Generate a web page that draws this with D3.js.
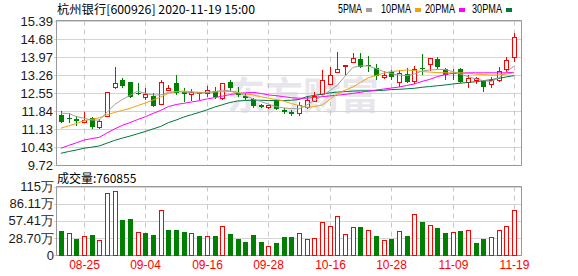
<!DOCTYPE html>
<html>
<head>
<meta charset="utf-8">
<script src="https://cdn.jsdelivr.net/npm/d3@7"></script>
<style>
  body { margin: 0; background: #fff; }
  svg { display: block; }
</style>
</head>
<body>
<div id="chart"></div>
<script>
const WIDTH = 578;
const HEIGHT = 276;

const TITLE = '杭州银行[600926] 2020-11-19 15:00';
const LAST_VOLUME = '760855';

const DATES = ['08-20','08-21','08-24','08-25','08-26','08-27','08-28','08-31','09-01','09-02',
  '09-03','09-04','09-07','09-08','09-09','09-10','09-11','09-14','09-15','09-16',
  '09-17','09-18','09-21','09-22','09-23','09-24','09-25','09-28','09-29','09-30',
  '10-09','10-12','10-13','10-14','10-15','10-16','10-19','10-20','10-21','10-22',
  '10-23','10-26','10-27','10-28','10-29','10-30','11-02','11-03','11-04','11-05',
  '11-06','11-09','11-10','11-11','11-12','11-13','11-16','11-17','11-18','11-19'];

const OPEN = [11.69,11.58,11.52,11.43,11.56,11.23,11.65,12.80,13.07,13.00,
  12.57,12.41,12.44,12.12,12.67,12.94,12.60,12.52,12.55,12.57,
  12.64,12.35,13.00,12.54,12.44,12.31,12.08,11.99,12.25,11.89,
  11.82,11.78,12.02,12.25,12.50,12.89,13.39,13.63,13.76,13.89,
  13.64,13.54,13.20,13.38,13.00,13.31,13.02,13.54,13.70,13.89,
  13.50,13.33,13.50,13.00,13.08,13.04,12.90,13.08,13.49,13.96];
const HIGH = [11.85,11.76,11.65,11.82,11.60,11.53,12.59,13.59,13.13,13.00,
  12.96,12.74,12.54,13.06,12.88,13.26,12.74,12.72,12.61,12.83,
  12.80,12.96,13.07,12.80,12.54,12.35,12.13,12.10,12.28,11.97,
  11.89,12.21,12.40,12.58,13.46,13.57,14.18,13.67,14.12,14.12,
  14.01,13.70,13.42,13.48,13.45,13.55,13.60,14.10,13.93,13.97,
  13.55,13.49,13.55,13.25,13.20,13.06,13.19,13.58,13.96,14.92];
const LOW = [11.37,11.37,11.26,11.40,11.14,11.14,11.60,12.70,12.74,12.35,
  12.48,12.28,11.99,12.08,12.62,12.46,12.21,12.24,12.28,12.41,
  12.31,12.28,12.61,12.41,12.28,11.95,11.97,11.93,11.87,11.73,
  11.65,11.65,11.93,12.21,12.48,12.87,13.39,13.26,13.72,13.55,
  13.40,13.07,13.09,13.05,12.79,12.94,12.90,13.26,13.42,13.50,
  13.07,13.07,12.95,12.74,12.90,12.61,12.76,12.97,13.35,13.77];
const CLOSE = [11.43,11.55,11.46,11.50,11.23,11.47,12.59,12.96,12.83,12.41,
  12.55,12.52,12.04,13.00,12.76,12.54,12.52,12.61,12.58,12.67,
  12.41,12.96,12.74,12.48,12.37,12.04,12.02,12.08,11.91,11.80,
  11.73,12.08,12.28,12.43,13.07,13.26,13.50,13.65,13.94,13.59,
  13.62,13.24,13.28,13.20,13.33,13.00,13.50,13.49,13.92,13.59,
  13.26,13.29,13.00,13.15,13.13,12.80,13.05,13.44,13.84,14.77];

// 成交量，单位：万股
const VOLUME = [40.3,36.4,26.9,31.9,33.6,24.6,103.6,107.6,58.8,60.5,
  38.1,37.0,33.6,75.6,42.0,42.0,38.7,36.4,31.9,31.9,
  31.9,48.7,35.3,27.5,22.4,33.6,22.4,15.1,20.7,30.3,
  30.3,36.4,26.9,28.0,54.9,48.7,65.0,34.7,46.5,47.1,
  42.0,31.9,25.2,26.9,39.8,31.9,68.4,55.5,49.9,45.4,
  37.0,38.7,40.3,41.5,20.2,26.9,30.3,42.0,48.7,76.09];

const MA5 = [11.76,11.75,11.63,11.56,11.49,11.49,11.79,12.10,12.30,12.46,
  12.63,12.54,12.48,12.48,12.58,12.61,12.60,12.56,12.55,12.57,
  12.60,12.67,12.64,12.58,12.46,12.32,12.22,12.12,12.02,11.97,
  11.94,11.93,12.08,12.26,12.44,12.65,12.87,13.22,13.56,13.62,
  13.62,13.52,13.40,13.32,13.26,13.24,13.30,13.42,13.46,13.48,
  13.48,13.40,13.30,13.20,13.11,13.04,13.01,13.15,13.38,13.62];
const MA10 = [11.17,11.26,11.35,11.46,11.52,11.58,11.69,11.79,11.87,11.95,
  12.06,12.16,12.28,12.40,12.54,12.61,12.63,12.61,12.58,12.58,
  12.60,12.61,12.61,12.58,12.52,12.48,12.41,12.35,12.30,12.24,
  12.14,12.06,11.99,12.02,12.08,12.30,12.52,12.67,12.79,12.97,
  13.15,13.24,13.34,13.40,13.43,13.46,13.44,13.40,13.38,13.36,
  13.35,13.35,13.35,13.33,13.30,13.28,13.26,13.27,13.30,13.35];
const MA20 = [10.38,10.49,10.59,10.70,10.76,10.81,10.98,11.14,11.28,11.39,
  11.51,11.62,11.75,11.87,12.02,12.10,12.15,12.20,12.25,12.32,
  12.37,12.43,12.49,12.54,12.56,12.58,12.54,12.48,12.45,12.41,
  12.37,12.35,12.35,12.38,12.41,12.44,12.47,12.50,12.54,12.58,
  12.63,12.67,12.71,12.75,12.79,12.85,12.91,13.01,13.09,13.20,
  13.28,13.33,13.34,13.35,13.35,13.35,13.35,13.35,13.35,13.37];
const MA30 = [10.18,10.25,10.31,10.38,10.42,10.47,10.58,10.69,10.78,10.86,
  10.95,11.04,11.14,11.24,11.39,11.49,11.61,11.70,11.79,11.89,
  12.00,12.09,12.18,12.24,12.26,12.27,12.27,12.26,12.26,12.26,
  12.27,12.30,12.41,12.46,12.51,12.56,12.59,12.61,12.63,12.64,
  12.64,12.65,12.66,12.69,12.70,12.72,12.74,12.78,12.81,12.84,
  12.87,12.91,12.94,12.97,13.00,13.04,13.08,13.13,13.19,13.24];

const PRICE_TICKS = [9.72, 10.43, 11.13, 11.84, 12.55, 13.26, 13.97, 14.68, 15.39];
const VOL_TICKS = [0, 28.70, 57.41, 86.11, 114.82];
const VOL_TICK_LABELS = ['0', '28.70万', '57.41万', '86.11万', '115万'];
const DATE_TICKS = ['08-25', '09-04', '09-16', '09-28', '10-16', '10-28', '11-09', '11-19'];

const MA_SERIES = [
  { name: '30PMA', values: MA30, color: '#00783c' },
  { name: '20PMA', values: MA20, color: '#ff00ff' },
  { name: '10PMA', values: MA10, color: '#f5a00a' },
  { name: '5PMA', values: MA5, color: '#a0a0a0' }
];

const RED = '#ff0000';
const GREEN = '#008000';
const GRID = '#d4d4d4';
const FRAME = '#999999';
const LEFT = 57;
const RIGHT = 522;
const PRICE_TOP = 20.5;
const PRICE_BOTTOM = 165.5;
const VOL_TOP = 186.5;
const VOL_BOTTOM = 255.5;
const LABEL_FONT = '"Liberation Sans", Arial, sans-serif';
const CJK_FONT = '"Noto Sans CJK SC", sans-serif';

const svg = d3.select('#chart').append('svg')
  .attr('width', WIDTH)
  .attr('height', HEIGHT);

const x = d3.scaleBand().domain(d3.range(DATES.length)).range([LEFT, 518]);
const cx = i => Math.round(x(i) + x.bandwidth() / 2);
const yP = d3.scaleLinear().domain([9.72, 15.39]).range([165, 21]);
const yV = d3.scaleLinear().domain([0, 114.82]).range([255, 186.5]);
const crisp = v => Math.round(v) + 0.5;

// header
svg.append('text')
  .attr('x', 57).attr('y', 14)
  .attr('textLength', 198).attr('lengthAdjust', 'spacingAndGlyphs')
  .style('font', `12px ${CJK_FONT}`).attr('fill', '#000')
  .text(TITLE);

const legendX = [338, 381, 425, 472];
const legend = svg.append('g');
MA_SERIES.slice().reverse().forEach((s, k) => {
  legend.append('text')
    .attr('x', legendX[k]).attr('y', 13)
    .attr('textLength', s.name.length * 6).attr('lengthAdjust', 'spacingAndGlyphs')
    .style('font', `12px ${LABEL_FONT}`).attr('fill', '#000')
    .text(s.name);
  legend.append('rect')
    .attr('x', legendX[k] + s.name.length * 6 + 4).attr('y', 8)
    .attr('width', 6).attr('height', 4)
    .attr('fill', s.color);
});

// watermark
svg.append('text')
  .attr('x', 227).attr('y', 109)
  .style('font', `bold 38px ${CJK_FONT}`)
  .attr('fill', '#e6e6ec')
  .text('东方财富');

const panelGrid = (g, ticks, y, top, bottom) => {
  g.selectAll('line.h').data(ticks).join('line')
    .attr('class', 'h')
    .attr('x1', LEFT - 3).attr('x2', RIGHT)
    .attr('y1', d => crisp(y(d))).attr('y2', d => crisp(y(d)))
    .attr('stroke', GRID);
  g.selectAll('line.v').data(DATE_TICKS).join('line')
    .attr('class', 'v')
    .attr('x1', d => cx(DATES.indexOf(d)) + 0.5).attr('x2', d => cx(DATES.indexOf(d)) + 0.5)
    .attr('y1', top).attr('y2', bottom)
    .attr('stroke', '#c8c8c8')
    .attr('stroke-dasharray', '5,4');
  g.append('path')
    .attr('d', `M${LEFT - 0.5},${bottom}V${top}H${RIGHT - 0.5}V${bottom}`)
    .attr('fill', 'none').attr('stroke', FRAME);
  g.append('line')
    .attr('x1', LEFT - 0.5).attr('x2', RIGHT - 0.5)
    .attr('y1', bottom).attr('y2', bottom)
    .attr('stroke', FRAME);
};

const pricePanel = svg.append('g');
panelGrid(pricePanel, PRICE_TICKS, yP, PRICE_TOP, PRICE_BOTTOM);

const volPanel = svg.append('g');
panelGrid(volPanel, VOL_TICKS, yV, VOL_TOP, VOL_BOTTOM);

// price labels
svg.append('g').selectAll('text').data(PRICE_TICKS).join('text')
  .attr('x', 53).attr('y', d => yP(d))
  .attr('dy', '0.36em')
  .attr('text-anchor', 'end')
  .style('font', `13px ${LABEL_FONT}`).attr('fill', '#1a1a1a')
  .text(d => d.toFixed(2));

svg.append('g').selectAll('text').data(VOL_TICKS).join('text')
  .attr('x', 54).attr('y', d => yV(d))
  .attr('dy', '0.36em')
  .attr('text-anchor', 'end')
  .style('font', `13px ${LABEL_FONT}`).attr('fill', '#1a1a1a')
  .text((d, k) => VOL_TICK_LABELS[k]);

svg.append('text')
  .attr('x', 57).attr('y', 183)
  .style('font', `12px ${CJK_FONT}`).attr('fill', '#000')
  .text(`成交量:${LAST_VOLUME}`);

svg.append('g').selectAll('text').data(DATE_TICKS).join('text')
  .attr('x', d => cx(DATES.indexOf(d)) + 0.5).attr('y', 269)
  .attr('text-anchor', 'middle')
  .style('font', `12px ${LABEL_FONT}`).attr('fill', RED)
  .text(d => d);

// candles
const rows = DATES.map((date, i) => ({
  i, date, o: OPEN[i], h: HIGH[i], l: LOW[i], c: CLOSE[i], v: VOLUME[i],
  up: CLOSE[i] >= OPEN[i],
  volUp: i === 0 ? CLOSE[i] >= OPEN[i] : CLOSE[i] >= CLOSE[i - 1]
}));

const candles = svg.append('g').selectAll('g').data(rows).join('g');
candles.each(function (d) {
  const g = d3.select(this);
  const c = cx(d.i);
  const top = Math.round(yP(Math.max(d.o, d.c)));
  const bottom = Math.round(yP(Math.min(d.o, d.c)));
  const hi = Math.round(yP(d.h));
  const lo = Math.round(yP(d.l));
  const color = d.up ? RED : GREEN;
  if (d.up) {
    g.append('line').attr('x1', c + 0.5).attr('x2', c + 0.5)
      .attr('y1', hi).attr('y2', top).attr('stroke', color);
    g.append('line').attr('x1', c + 0.5).attr('x2', c + 0.5)
      .attr('y1', bottom + 1).attr('y2', lo).attr('stroke', color);
    g.append('rect')
      .attr('x', c - 1.5).attr('y', top + 0.5)
      .attr('width', 4).attr('height', Math.max(bottom - top, 1))
      .attr('fill', '#fff').attr('stroke', color);
  } else {
    g.append('line').attr('x1', c + 0.5).attr('x2', c + 0.5)
      .attr('y1', hi).attr('y2', lo).attr('stroke', color);
    g.append('rect')
      .attr('x', c - 2).attr('y', top)
      .attr('width', 5).attr('height', Math.max(bottom - top, 1))
      .attr('fill', color);
  }
});

// volume bars
const bars = svg.append('g').selectAll('rect').data(rows).join('rect')
  .each(function (d) {
    const c = cx(d.i);
    const top = Math.round(yV(d.v));
    const bar = d3.select(this);
    if (d.volUp) {
      bar.attr('x', c - 1.5).attr('y', top + 0.5)
        .attr('width', 4).attr('height', 255 - top)
        .attr('fill', '#fff').attr('stroke', RED);
    } else {
      bar.attr('x', c - 2).attr('y', top)
        .attr('width', 5).attr('height', 256 - top)
        .attr('fill', GREEN);
    }
  });

// moving averages
const maLine = d3.line()
  .x((v, i) => x(i) + x.bandwidth() / 2)
  .y(v => yP(v));

svg.append('g').selectAll('path').data(MA_SERIES).join('path')
  .attr('d', s => maLine(s.values))
  .attr('fill', 'none')
  .attr('stroke', s => s.color)
  .attr('stroke-width', 1);
</script>
</body>
</html>
